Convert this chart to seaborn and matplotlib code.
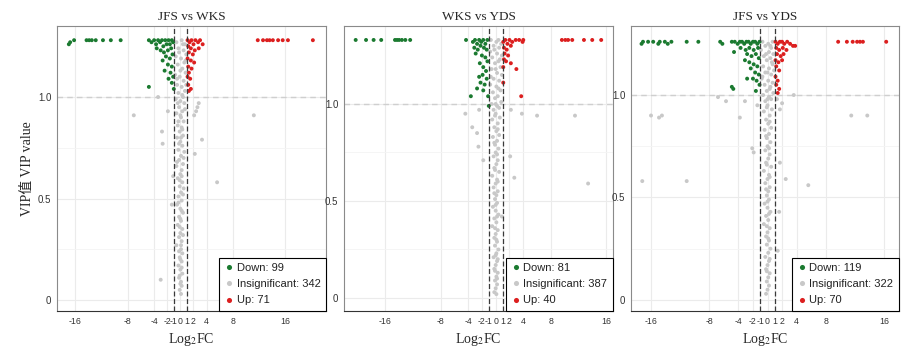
import pandas as pd
import seaborn as sns
import matplotlib.pyplot as plt

titles = ['JFS vs WKS', 'WKS vs YDS', 'JFS vs YDS']
counts = [(99, 342, 71), (81, 387, 40), (119, 322, 70)]
fc_ticks = [-16, -8, -4, -2, -1, 0, 1, 2, 4, 8, 16]
vip_ticks = [0, 0.5, 1.0]
vip_ticklabels = ['0', '0.5', '1.0']

# (Log2FC, VIP), one list per group and panel
jw_down = [(-17.0, 1.26), (-16.8, 1.27), (-16.2, 1.28), (-14.3, 1.28), (-13.9, 1.28), (-13.5, 1.28),
           (-12.9, 1.28), (-11.8, 1.28), (-10.6, 1.28), (-9.1, 1.28),
           (-4.8, 1.28), (-4.4, 1.27), (-4.0, 1.28), (-3.7, 1.26), (-3.4, 1.28), (-3.1, 1.27),
           (-2.8, 1.28), (-2.6, 1.25), (-2.3, 1.28), (-2.1, 1.26), (-1.8, 1.28), (-1.6, 1.26),
           (-1.3, 1.28), (-1.1, 1.27), (-3.6, 1.24), (-3.0, 1.23), (-2.5, 1.22), (-1.9, 1.23),
           (-1.4, 1.24), (-2.2, 1.20), (-1.6, 1.19), (-1.2, 1.21), (-2.7, 1.18), (-1.9, 1.16),
           (-1.3, 1.15), (-2.4, 1.13), (-1.5, 1.12), (-1.1, 1.10), (-1.8, 1.09), (-1.3, 1.07),
           (-4.8, 1.05), (-1.0, 1.04)]
jw_up = [(11.8, 1.28), (12.6, 1.28), (13.2, 1.28), (13.6, 1.28), (14.1, 1.28), (14.9, 1.28),
         (15.6, 1.28), (16.4, 1.28), (20.2, 1.28),
         (1.1, 1.28), (1.4, 1.27), (1.7, 1.28), (2.0, 1.26), (2.3, 1.28), (2.7, 1.27), (3.0, 1.28),
         (3.4, 1.26), (1.2, 1.25), (1.6, 1.24), (2.2, 1.23), (2.8, 1.24), (1.3, 1.22), (1.9, 1.21),
         (1.1, 1.19), (1.6, 1.18), (2.1, 1.17), (1.2, 1.15), (1.7, 1.14), (1.3, 1.12), (1.1, 1.10),
         (1.5, 1.09), (1.2, 1.06), (1.6, 1.04), (1.3, 1.03)]
jw_gray = [(-0.6, 1.27), (0.2, 1.28), (0.7, 1.26), (-0.3, 1.24), (0.5, 1.23), (0.9, 1.21),
           (-0.7, 1.20), (0.1, 1.19), (0.6, 1.17), (-0.4, 1.16), (0.3, 1.14), (0.8, 1.12),
           (-0.8, 1.11), (-0.1, 1.10), (0.5, 1.08), (-0.5, 1.06), (0.2, 1.05), (0.7, 1.03),
           (-0.3, 1.02), (0.4, 1.00), (-0.7, 0.99), (0.0, 0.98), (0.6, 0.97),
           (-0.2, 0.95), (0.3, 0.93), (-0.6, 0.92), (0.1, 0.90), (0.5, 0.88), (-0.4, 0.86),
           (0.2, 0.85), (-0.1, 0.83), (0.4, 0.81), (-0.5, 0.80), (0.0, 0.78), (0.3, 0.76),
           (-0.3, 0.74), (0.6, 0.73), (0.1, 0.71), (-0.2, 0.69), (0.4, 0.67), (-0.6, 0.66),
           (0.2, 0.64), (0.0, 0.62), (-0.4, 0.60), (0.3, 0.58), (-0.1, 0.56), (0.5, 0.55),
           (0.1, 0.53), (-0.3, 0.51),
           (0.2, 0.49), (-0.5, 0.47), (0.0, 0.45), (0.4, 0.43), (-0.2, 0.41), (0.1, 0.39),
           (-0.4, 0.37), (0.3, 0.35), (0.0, 0.33), (-0.2, 0.31), (0.2, 0.29), (-0.6, 0.27),
           (0.1, 0.25), (0.3, 0.23), (-0.1, 0.21), (0.2, 0.19), (-0.3, 0.17), (0.0, 0.15),
           (0.3, 0.13), (-0.2, 0.11), (0.1, 0.09), (0.2, 0.07), (-0.1, 0.05), (0.1, 0.03),
           (0.4, 1.26), (-0.2, 1.22), (0.8, 1.18), (0.0, 1.13), (-0.5, 1.09), (0.9, 1.06),
           (0.3, 1.01), (-0.4, 0.97), (0.7, 0.94), (0.0, 0.91), (-0.3, 0.88), (0.3, 0.84),
           (0.1, 0.80), (-0.2, 0.77), (0.5, 0.70), (-0.5, 0.68), (0.2, 0.61), (-0.1, 0.59),
           (0.4, 0.52), (-0.3, 0.48), (0.2, 0.44), (0.0, 0.40), (-0.1, 0.36), (0.4, 0.32),
           (0.1, 0.27), (-0.2, 0.24), (0.0, 0.20), (0.2, 0.16), (-0.1, 0.12), (0.0, 0.08),
           (-3.4, 1.00), (-7.1, 0.91), (-1.9, 0.93), (-2.8, 0.83), (-2.7, 0.77), (11.2, 0.91),
           (3.3, 0.79), (2.2, 0.72), (5.6, 0.58), (-3.0, 0.10), (-1.3, 0.47), (-1.1, 0.61),
           (2.8, 0.97), (2.6, 0.95), (2.4, 0.93), (2.1, 0.91)]

wy_down = [(-20.3, 1.33), (-18.8, 1.33), (-17.7, 1.33), (-16.6, 1.33), (-14.6, 1.33), (-14.3, 1.33),
           (-14.0, 1.33), (-13.6, 1.33), (-13.1, 1.33), (-12.4, 1.33), (-4.3, 1.33),
           (-3.3, 1.32), (-3.0, 1.33), (-2.7, 1.31), (-2.4, 1.33), (-2.1, 1.32), (-1.8, 1.33),
           (-1.5, 1.31), (-1.2, 1.33), (-3.1, 1.29), (-2.6, 1.28), (-2.2, 1.30), (-1.7, 1.29),
           (-1.3, 1.28), (-2.9, 1.26), (-2.0, 1.25), (-1.5, 1.24), (-1.2, 1.22), (-2.3, 1.21),
           (-1.8, 1.19), (-1.4, 1.17), (-1.9, 1.15), (-1.3, 1.13), (-2.4, 1.14), (-2.2, 1.11),
           (-1.6, 1.10), (-2.7, 1.08), (-1.8, 1.07), (-3.6, 1.04), (-1.1, 1.04), (-1.0, 0.99)]
wy_up = [(9.6, 1.33), (10.1, 1.33), (10.5, 1.33), (11.1, 1.33), (12.8, 1.33), (14.0, 1.33),
         (15.3, 1.33),
         (1.1, 1.32), (1.4, 1.33), (1.7, 1.31), (2.0, 1.33), (2.4, 1.32), (2.9, 1.33), (3.4, 1.33),
         (3.9, 1.32), (4.0, 1.33), (1.2, 1.29), (1.6, 1.28), (2.2, 1.30), (1.3, 1.26), (1.8, 1.25),
         (1.2, 1.23), (1.5, 1.22), (2.2, 1.21), (1.1, 1.19), (3.0, 1.18), (1.1, 1.11), (3.7, 1.04)]
wy_gray = [(-0.7, 1.33), (0.1, 1.32), (0.8, 1.31), (-0.3, 1.30), (0.5, 1.29), (-0.8, 1.27),
           (0.2, 1.26), (0.9, 1.25), (-0.5, 1.24), (0.4, 1.22), (-0.1, 1.21), (0.7, 1.19),
           (-0.6, 1.18), (0.2, 1.16), (0.9, 1.15), (-0.3, 1.13), (0.5, 1.12), (-0.8, 1.10),
           (0.1, 1.09), (0.7, 1.07), (-0.4, 1.06), (0.3, 1.04), (-0.1, 1.03), (0.8, 1.01),
           (-0.6, 1.00), (0.2, 0.99), (0.5, 0.98), (-0.3, 0.97),
           (0.0, 0.95), (0.6, 0.93), (-0.5, 0.92), (0.3, 0.90), (-0.2, 0.88), (0.1, 0.86),
           (0.5, 0.84), (-0.4, 0.83), (0.2, 0.81), (-0.1, 0.79), (0.4, 0.77), (0.0, 0.75),
           (-0.3, 0.73), (0.3, 0.71), (0.1, 0.69), (-0.2, 0.67), (0.5, 0.65), (-0.5, 0.63),
           (0.2, 0.61), (0.0, 0.59), (-0.3, 0.57), (0.3, 0.55), (0.1, 0.53), (-0.1, 0.51),
           (0.2, 0.49), (-0.4, 0.47), (0.0, 0.45), (0.4, 0.43), (-0.2, 0.41), (0.1, 0.39),
           (-0.5, 0.37), (0.3, 0.35), (0.0, 0.33), (-0.2, 0.31), (0.2, 0.29), (-0.1, 0.27),
           (0.4, 0.25), (0.1, 0.23), (-0.3, 0.21), (0.2, 0.19), (0.0, 0.17), (-0.2, 0.15),
           (0.3, 0.13), (0.1, 0.11), (-0.1, 0.09), (0.2, 0.07), (0.0, 0.05), (-0.2, 0.03),
           (0.1, 0.02),
           (0.4, 1.33), (-0.2, 1.28), (0.6, 1.23), (0.0, 1.18), (-0.7, 1.14), (0.4, 1.08),
           (0.0, 1.00), (-0.1, 0.94), (0.3, 0.87), (-0.2, 0.80), (0.2, 0.74), (-0.1, 0.66),
           (0.3, 0.60), (-0.2, 0.54), (0.0, 0.48), (0.2, 0.42), (-0.1, 0.36), (0.1, 0.30),
           (0.3, 0.20), (-0.1, 0.14), (0.0, 0.22), (0.2, 0.10),
           (-4.4, 0.95), (-3.4, 0.88), (-2.7, 0.85), (-2.5, 0.78), (-1.8, 0.71), (-2.4, 0.97),
           (2.2, 0.97), (3.8, 0.95), (6.0, 0.94), (11.5, 0.94), (2.1, 0.73), (2.7, 0.62),
           (13.4, 0.59), (0.9, 0.42)]

jy_down = [(-17.3, 1.25), (-17.1, 1.26), (-16.4, 1.26), (-15.7, 1.26), (-15.0, 1.25), (-14.8, 1.26),
           (-14.1, 1.26), (-13.7, 1.25), (-13.2, 1.26), (-11.1, 1.26), (-9.5, 1.26), (-6.5, 1.26),
           (-6.2, 1.25), (-4.9, 1.26),
           (-4.5, 1.26), (-4.1, 1.25), (-3.8, 1.26), (-3.5, 1.26), (-3.2, 1.25), (-2.9, 1.26),
           (-2.6, 1.26), (-2.3, 1.25), (-2.0, 1.26), (-1.7, 1.26), (-1.4, 1.25), (-1.1, 1.26),
           (-3.7, 1.23), (-3.0, 1.22), (-2.5, 1.23), (-1.9, 1.22), (-1.3, 1.23), (-4.6, 1.21),
           (-2.8, 1.20), (-2.2, 1.19), (-1.6, 1.20), (-1.2, 1.18), (-3.1, 1.17), (-2.5, 1.16),
           (-1.9, 1.15), (-1.4, 1.14), (-2.3, 1.13), (-1.7, 1.11), (-1.2, 1.10), (-2.8, 1.08),
           (-2.0, 1.08), (-1.5, 1.07), (-1.1, 1.05), (-4.9, 1.04), (-4.7, 1.03), (-1.6, 1.02)]
jy_up = [(9.7, 1.26), (10.9, 1.26), (11.7, 1.26), (12.3, 1.26), (12.7, 1.26), (13.1, 1.26),
         (16.3, 1.26),
         (1.1, 1.26), (1.4, 1.25), (1.7, 1.26), (2.0, 1.26), (2.3, 1.25), (2.7, 1.26), (3.1, 1.25),
         (3.5, 1.24), (3.8, 1.24), (1.2, 1.23), (1.6, 1.22), (2.1, 1.23), (2.6, 1.22), (1.3, 1.20),
         (1.8, 1.19), (2.2, 1.20), (1.1, 1.17), (1.5, 1.16), (2.0, 1.17), (1.2, 1.14), (1.6, 1.12),
         (1.1, 1.09), (1.4, 1.07), (1.2, 1.05), (1.6, 1.03), (1.4, 1.01)]
jy_gray = [(-0.7, 1.26), (0.1, 1.25), (0.7, 1.26), (-0.3, 1.24), (0.5, 1.23), (-0.9, 1.22),
           (0.2, 1.21), (0.8, 1.20), (-0.5, 1.19), (0.4, 1.18), (-0.1, 1.17), (0.7, 1.15),
           (-0.6, 1.14), (0.2, 1.13), (0.9, 1.12), (-0.3, 1.11), (0.5, 1.10), (-0.8, 1.08),
           (0.1, 1.07), (0.7, 1.06), (-0.4, 1.05), (0.3, 1.03), (-0.1, 1.02), (0.8, 1.01),
           (-0.6, 1.00), (0.2, 0.99), (0.5, 0.98), (-0.3, 0.97),
           (0.0, 0.95), (0.6, 0.93), (-0.5, 0.92), (0.3, 0.90), (-0.2, 0.88), (0.1, 0.86),
           (0.5, 0.84), (-0.4, 0.83), (0.2, 0.81), (-0.1, 0.79), (0.4, 0.77), (0.0, 0.75),
           (-0.3, 0.73), (0.3, 0.71), (0.1, 0.69), (-0.2, 0.67), (0.5, 0.65), (-0.5, 0.63),
           (0.2, 0.61), (0.0, 0.59), (-0.3, 0.57), (0.3, 0.55), (0.1, 0.53), (-0.1, 0.51),
           (0.2, 0.49), (-0.4, 0.47), (0.0, 0.45), (0.4, 0.43), (-0.2, 0.41), (0.1, 0.39),
           (-0.5, 0.37), (0.3, 0.35), (0.0, 0.33), (-0.2, 0.31), (0.2, 0.29), (-0.1, 0.27),
           (0.4, 0.25), (0.1, 0.23), (-0.3, 0.21), (0.2, 0.19), (0.0, 0.17), (-0.2, 0.15),
           (0.3, 0.13), (0.1, 0.11), (-0.1, 0.09), (0.2, 0.07), (0.0, 0.05), (-0.2, 0.03),
           (0.4, 1.24), (-0.2, 1.20), (0.6, 1.16), (0.0, 1.11), (-0.7, 1.09), (0.4, 1.04),
           (0.0, 0.98), (-0.1, 0.94), (0.3, 0.87), (-0.2, 0.80), (0.2, 0.74), (-0.1, 0.66),
           (0.3, 0.60), (-0.2, 0.54), (0.0, 0.48), (0.2, 0.42), (-0.1, 0.36), (0.1, 0.30),
           (0.3, 0.20), (-0.1, 0.14),
           (-16.0, 0.90), (-14.9, 0.89), (-14.5, 0.90), (-6.8, 0.99), (-5.7, 0.97), (-3.1, 0.97),
           (-3.8, 0.89), (-17.2, 0.58), (-11.1, 0.58), (5.6, 0.56), (2.5, 0.59), (11.5, 0.90),
           (13.7, 0.90), (3.6, 1.00), (-2.1, 0.74), (-1.9, 0.72), (1.7, 0.67), (1.4, 0.24),
           (1.6, 0.43), (2.0, 0.96), (1.7, 0.93), (-1.4, 0.95), (1.3, 0.98)]

panels = [(jw_down, jw_gray, jw_up), (wy_down, wy_gray, wy_up), (jy_down, jy_gray, jy_up)]

green, grey, red = '#1b7a30', '#c8c8c8', '#dc1f1f'
serif = ['Liberation Serif', 'Noto Sans CJK SC']

sns.set_theme(style='whitegrid')
plt.rcParams['font.family'] = ['Liberation Sans', 'Noto Sans CJK SC']
plt.rcParams['mathtext.fontset'] = 'stix'
plt.rcParams['legend.fancybox'] = False
plt.rcParams['legend.framealpha'] = 1

fig = plt.figure(figsize=(9.17, 3.62), dpi=100)
lefts = [0.0622, 0.3751, 0.6881]
widths = [0.2933, 0.2933, 0.2923]
xlims = [(-18.8, 22.2), (-22.0, 17.0), (-18.75, 18.06)]
ylims = [(-0.054, 1.35), (-0.067, 1.402), (-0.054, 1.337)]

for i, (down, gray, up) in enumerate(panels):
    n_down, n_ins, n_up = counts[i]
    labs = [f'Down: {n_down}', f'Insignificant: {n_ins}', f'Up: {n_up}']
    df = pd.concat([
        pd.DataFrame(gray, columns=['fc', 'vip']).assign(group=labs[1]),
        pd.DataFrame(down, columns=['fc', 'vip']).assign(group=labs[0]),
        pd.DataFrame(up, columns=['fc', 'vip']).assign(group=labs[2]),
    ], ignore_index=True)

    ax = fig.add_axes([lefts[i], 0.1409, widths[i], 0.7873])
    ax.axhline(1.0, color='#cfcfcf', ls=(0, (4, 3)), lw=1.0, zorder=1)
    for v in (-1, 1):
        ax.axvline(v, color='#3a3a3a', ls=(0, (4, 2)), lw=0.9, zorder=3)
    sns.scatterplot(data=df, x='fc', y='vip', hue='group', hue_order=labs,
                    palette=[green, grey, red], s=8, linewidth=0, ax=ax, zorder=2)

    ax.set_xlim(*xlims[i])
    ax.set_ylim(*ylims[i])
    ax.set_xticks(fc_ticks)
    ax.set_xticklabels([str(t) for t in fc_ticks])
    ax.set_yticks(vip_ticks)
    ax.set_yticklabels(vip_ticklabels)
    ax.set_yticks([0.25, 0.75], minor=True)
    ax.grid(which='major', color='#ebebeb', lw=0.8)
    ax.grid(which='minor', axis='y', color='#f4f4f4', lw=0.6)
    ax.tick_params(axis='both', which='major', labelsize=7, length=2.5, width=0.6,
                   color='#333333', labelcolor='#333333', pad=1.5)
    ax.tick_params(axis='x', which='major', labelsize=6.3)
    ax.tick_params(which='minor', length=0)
    for s in ax.spines.values():
        s.set_color('#8a8a8a')
        s.set_linewidth(0.8)
    ax.spines['bottom'].set_color('#333333')

    ax.set_title(titles[i], family=serif, fontsize=9.5, pad=4)
    ax.set_xlabel('Log$_2$FC', family=serif, fontsize=10, labelpad=4)
    if i == 0:
        ax.set_ylabel('VIP值 VIP value', family=serif, fontsize=10, labelpad=3)
    else:
        ax.set_ylabel('')

    sns.move_legend(ax, 'lower right', bbox_to_anchor=(1, 0), title=None, frameon=True,
                    fontsize=8, borderaxespad=0, handletextpad=0.3, handlelength=0.8,
                    markerscale=1.3, labelspacing=0.55, borderpad=0.5)
    leg = ax.get_legend()
    leg.get_frame().set_edgecolor('black')
    leg.get_frame().set_linewidth(0.8)
    for t in leg.get_texts():
        t.set_color('#222222')

fig.savefig('out.png', dpi=100)
